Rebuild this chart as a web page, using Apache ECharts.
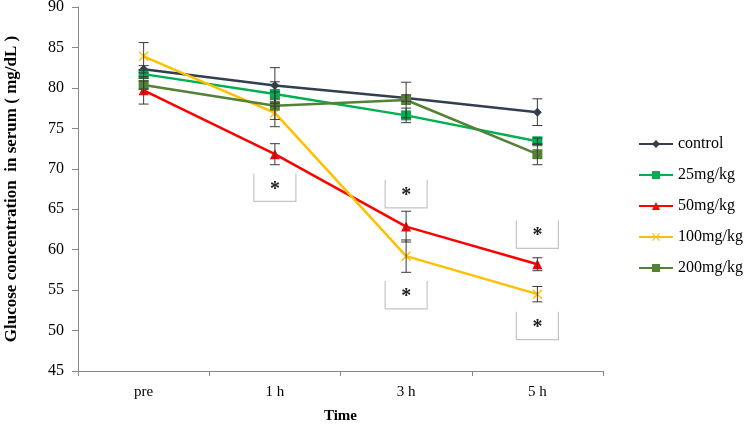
<!DOCTYPE html>
<html>
<head>
<meta charset="utf-8">
<script src="https://cdn.jsdelivr.net/npm/echarts@6.0.0/dist/echarts.min.js"></script>
<style>
  html, body { margin: 0; padding: 0; background: #fff; }
  #chart { width: 746px; height: 424px; }
</style>
</head>
<body>
<div id="chart"></div>
<script>
// time points
const timePoints = ['pre', '1 h', '3 h', '5 h'];

// mean glucose (mg/dL) per group
const control = [82.3, 80.3, 78.75, 77.0];
const dose25 = [81.7, 79.25, 76.6, 73.4];
const dose50 = [79.7, 71.8, 62.85, 58.2];
const dose100 = [83.9, 76.9, 59.2, 54.5];
const dose200 = [80.35, 77.8, 78.5, 71.8];

// error bar half-widths (SD)
const controlErr = [0.45, 2.2, 0.4, 1.65];
const dose25Err = [0.5, 1.5, 0.9, 0.4];
const dose50Err = [1.7, 1.3, 1.9, 0.8];
const dose100Err = [1.7, 1.7, 2.0, 0.95];
const dose200Err = [0.5, 1.7, 2.2, 1.3];

// significance markers (time point, y value of box centre)
const starTimes = ['1 h', '3 h', '3 h', '5 h', '5 h'];
const starValues = [67.7, 66.9, 54.4, 61.9, 50.6];

const serif = 'Liberation Serif';

const groups = [
  { name: 'control', data: control, err: controlErr, color: '#333F50', symbol: 'diamond', size: 9 },
  { name: '25mg/kg', data: dose25, err: dose25Err, color: '#00B050', symbol: 'rect', size: 10 },
  { name: '50mg/kg', data: dose50, err: dose50Err, color: '#FF0000', symbol: 'triangle', size: 10 },
  { name: '100mg/kg', data: dose100, err: dose100Err, color: '#FFC000',
    symbol: 'path://M0,1L1,0L5,4L9,0L10,1L6,5L10,9L9,10L5,6L1,10L0,9L4,5Z', size: 10 },
  { name: '200mg/kg', data: dose200, err: dose200Err, color: '#548235', symbol: 'rect', size: 10 }
];

const chart = echarts.init(document.getElementById('chart'));

const lineSeries = groups.map(g => ({
  name: g.name,
  type: 'line',
  data: g.data,
  symbol: g.symbol,
  symbolSize: g.size,
  showAllSymbol: true,
  lineStyle: { width: 2.5, color: g.color },
  itemStyle: { color: g.color },
  z: 2,
  animation: false
}));

const errorSeries = groups.map(g => ({
  type: 'custom',
  name: g.name + ' err',
  data: g.data.map((v, i) => [i, v - g.err[i], v + g.err[i]]),
  renderItem: (params, api) => {
    const x = api.value(0);
    const lo = api.coord([x, api.value(1)]);
    const hi = api.coord([x, api.value(2)]);
    const w = 5;
    const style = { stroke: '#3a3a3a', lineWidth: 1 };
    return {
      type: 'group',
      children: [
        { type: 'line', shape: { x1: hi[0], y1: hi[1], x2: lo[0], y2: lo[1] }, style },
        { type: 'line', shape: { x1: hi[0] - w, y1: hi[1], x2: hi[0] + w, y2: hi[1] }, style },
        { type: 'line', shape: { x1: lo[0] - w, y1: lo[1], x2: lo[0] + w, y2: lo[1] }, style }
      ]
    };
  },
  z: 3,
  silent: true,
  animation: false
}));

const starSeries = {
  type: 'custom',
  name: 'stars',
  data: starTimes.map((t, i) => [timePoints.indexOf(t), starValues[i]]),
  renderItem: (params, api) => {
    const c = api.coord([api.value(0), api.value(1)]);
    const hw = 21, hh = 14;
    return {
      type: 'group',
      children: [
        { type: 'rect', shape: { x: c[0] - hw, y: c[1] - hh, width: hw * 2, height: hh * 2 },
          style: { fill: '#fff', stroke: null } },
        { type: 'polyline',
          shape: { points: [[c[0] - hw, c[1] - hh], [c[0] - hw, c[1] + hh], [c[0] + hw, c[1] + hh], [c[0] + hw, c[1] - hh]] },
          style: { stroke: '#c4c4c4', lineWidth: 1.2, fill: null } },
        { type: 'text', x: c[0], y: c[1] + 2,
          style: { text: '*', fontFamily: serif, fontSize: 20, fontWeight: 'bold', fill: '#222',
            align: 'center', verticalAlign: 'middle' } }
      ]
    };
  },
  z: 1,
  silent: true,
  animation: false
};

chart.setOption({
  animation: false,
  grid: { left: 78, right: 143, top: 7, bottom: 53, outerBoundsMode: 'none', containLabel: false },
  legend: {
    data: groups.map(g => g.name),
    orient: 'vertical',
    left: 633,
    top: 131,
    itemWidth: 34,
    itemHeight: 10,
    itemGap: 15,
    textStyle: { fontFamily: serif, fontSize: 16, color: '#000' }
  },
  xAxis: {
    type: 'category',
    data: timePoints,
    boundaryGap: true,
    name: 'Time',
    nameLocation: 'middle',
    nameGap: 38,
    nameTextStyle: { fontFamily: serif, fontSize: 15, fontWeight: 'bold', color: '#000' },
    axisLine: { lineStyle: { color: '#888', width: 1 } },
    axisTick: { show: true, length: 5, lineStyle: { color: '#888' } },
    axisLabel: { fontFamily: serif, fontSize: 15, color: '#000', margin: 14 },
    splitLine: { show: false }
  },
  yAxis: {
    type: 'value',
    min: 45,
    max: 90,
    interval: 5,
    name: 'Glucose concentration  in serum ( mg/dL )',
    nameLocation: 'middle',
    nameGap: 58,
    nameTextStyle: { fontFamily: serif, fontSize: 17, fontWeight: 'bold', color: '#000' },
    axisLine: { show: true, lineStyle: { color: '#888', width: 1 } },
    axisTick: { show: true, length: 6, lineStyle: { color: '#888' } },
    axisLabel: { fontFamily: serif, fontSize: 16, color: '#000', margin: 14 },
    splitLine: { show: false }
  },
  series: [starSeries, ...lineSeries, ...errorSeries]
});
</script>
</body>
</html>
